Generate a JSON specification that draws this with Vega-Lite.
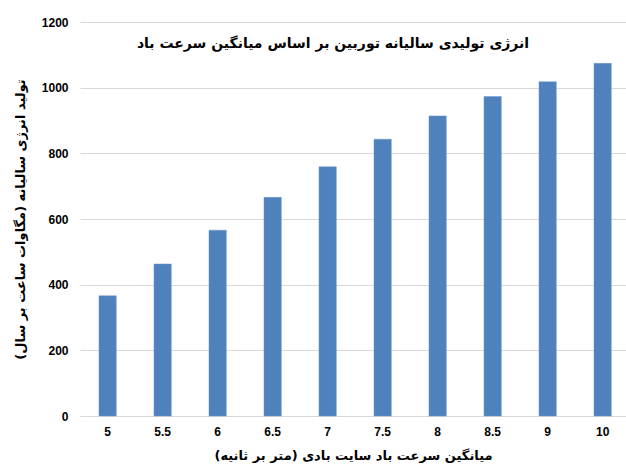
{
  "$schema": "https://vega.github.io/schema/vega-lite/v6.json",
  "autosize": {"type": "none"},
  "padding": {"left": 80, "top": 22, "right": 0, "bottom": 49},
  "width": 546,
  "height": 394,
  "background": "white",
  "title": {
    "text": "انرژی تولیدی سالیانه توربین بر اساس میانگین سرعت باد",
    "font": "DejaVu Sans",
    "fontSize": 14,
    "fontWeight": "bold",
    "color": "#000000",
    "anchor": "middle",
    "offset": -35,
    "dx": -20
  },
  "data": {
    "values": [
      {"speed": "5", "energy": 366},
      {"speed": "5.5", "energy": 463},
      {"speed": "6", "energy": 566},
      {"speed": "6.5", "energy": 666},
      {"speed": "7", "energy": 759},
      {"speed": "7.5", "energy": 843},
      {"speed": "8", "energy": 914},
      {"speed": "8.5", "energy": 973},
      {"speed": "9", "energy": 1018},
      {"speed": "10", "energy": 1074}
    ]
  },
  "mark": {"type": "bar", "color": "#4f81bd", "stroke": "#6f9bd1", "strokeWidth": 0.5},
  "encoding": {
    "x": {
      "field": "speed",
      "type": "nominal",
      "sort": null,
      "scale": {"paddingInner": 0.685, "paddingOuter": 0.306, "align": 0.564},
      "axis": {
        "title": "میانگین سرعت باد سایت بادی (متر بر ثانیه)",
        "titleFont": "DejaVu Sans",
        "titleFontSize": 13,
        "titleFontWeight": "bold",
        "titleColor": "#000000",
        "titlePadding": 12,
        "labelAngle": 0,
        "labelFont": "Liberation Sans",
        "labelFontSize": 12,
        "labelFontWeight": "bold",
        "labelColor": "#000000",
        "labelPadding": 10,
        "ticks": false,
        "domainColor": "#d9d9d9",
        "domainWidth": 1
      }
    },
    "y": {
      "field": "energy",
      "type": "quantitative",
      "scale": {"domain": [0, 1200], "nice": false},
      "axis": {
        "values": [0, 200, 400, 600, 800, 1000, 1200],
        "format": "d",
        "title": "تولید انرژی سالیانه (مگاوات ساعت بر سال)",
        "titleFont": "DejaVu Sans",
        "titleFontSize": 13,
        "titleFontWeight": "bold",
        "titleColor": "#000000",
        "titlePadding": 14,
        "labelFont": "Liberation Sans",
        "labelFontSize": 12,
        "labelFontWeight": "bold",
        "labelColor": "#000000",
        "labelPadding": 12,
        "ticks": false,
        "domain": false,
        "gridColor": "#d9d9d9",
        "gridWidth": 1
      }
    }
  },
  "config": {"view": {"stroke": null}}
}
